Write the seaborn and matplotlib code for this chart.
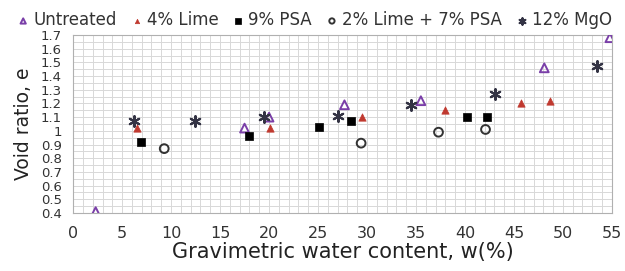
#! /usr/bin/env python3

import numpy as np
import pandas as pd
import matplotlib.pyplot as plt
from matplotlib.ticker import MultipleLocator, FormatStrFormatter
import seaborn as sns

sns.set_style('white')
plt.rcParams['font.family'] = ['DejaVu Sans']

# values
untreated_w = [2.3, 17.5, 20.0, 27.7, 35.5, 48.1, 54.8]
untreated_e = [0.41, 1.02, 1.10, 1.19, 1.22, 1.46, 1.68]

lime_w = [6.5, 20.1, 29.5, 38.0, 45.7, 48.7]
lime_e = [1.02, 1.02, 1.10, 1.15, 1.20, 1.22]

psa_w = [6.9, 18.0, 25.1, 28.4, 40.2, 42.3]
psa_e = [0.92, 0.96, 1.03, 1.07, 1.10, 1.10]

limepsa_w = [9.3, 29.4, 37.3, 42.1]
limepsa_e = [0.87, 0.91, 0.99, 1.01]

mgo_w = [6.2, 12.4, 19.5, 27.0, 34.5, 43.1, 53.5]
mgo_e = [1.07, 1.07, 1.10, 1.11, 1.19, 1.27, 1.47]

series = ['Untreated', '4% Lime', '9% PSA', '2% Lime + 7% PSA', '12% MgO']
frames = []
for name, w, e in zip(series,
                      [untreated_w, lime_w, psa_w, limepsa_w, mgo_w],
                      [untreated_e, lime_e, psa_e, limepsa_e, mgo_e]):
    frames.append(pd.DataFrame({'w': w, 'e': e, 'series': name}))
data = pd.concat(frames, ignore_index=True)

styles = {
    'Untreated': dict(marker='^', color='#7a3fa8', facecolor='none',
                      edgecolor='#7a3fa8', s=40, linewidth=1.4),
    '4% Lime': dict(marker='^', color='#c0392f', edgecolor='#c0392f',
                    s=28, linewidth=0.5),
    '9% PSA': dict(marker='s', color='black', edgecolor='black',
                   s=40, linewidth=0.5),
    '2% Lime + 7% PSA': dict(marker='o', color='#333333', facecolor='none',
                             edgecolor='#333333', s=40, linewidth=1.4),
    '12% MgO': dict(marker=(6, 2, 0), color='#333344',
                    edgecolor='#333344', s=60, linewidth=1.5),
}

fig = plt.figure(figsize=(6.25, 2.71), dpi=100)
ax = fig.add_axes([0.117, 0.214, 0.862, 0.657])

for name in series:
    sub = data[data['series'] == name]
    sns.scatterplot(x='w', y='e', data=sub, ax=ax, label=name, zorder=3,
                    **styles[name])

ax.set_xlim(0, 55)
ax.set_ylim(0.4, 1.7)
ax.xaxis.set_major_locator(MultipleLocator(5))
ax.xaxis.set_minor_locator(MultipleLocator(1))
ax.yaxis.set_major_locator(MultipleLocator(0.1))
ax.yaxis.set_minor_locator(MultipleLocator(0.05))
ax.yaxis.set_major_formatter(FormatStrFormatter('%g'))
ax.grid(True, which='both', color='#d8d8d8', linewidth=0.7, zorder=0)
ax.set_axisbelow(True)
for sp in ax.spines.values():
    sp.set_color('#b0b0b0')
    sp.set_linewidth(0.8)

ax.tick_params(axis='x', length=0, pad=9, labelsize=11.5, colors='#333333')
ax.tick_params(axis='y', length=0, pad=8, labelsize=9.5, colors='#333333')
ax.set_xlabel('Gravimetric water content, w(%)', fontsize=15,
              color='#222222', labelpad=1)
ax.set_ylabel('Void ratio, e', fontsize=13.5, color='#222222', labelpad=6)

h, l = ax.get_legend_handles_labels()
ax.get_legend().remove()
fig.legend(h, l, loc='upper center', bbox_to_anchor=(0.5, 0.995), ncol=5,
           frameon=False, fontsize=12, handletextpad=0.0, handlelength=1.2,
           columnspacing=0.6, markerscale=0.6, labelcolor='#333333',
           borderaxespad=0.2)

fig.savefig('out.png', dpi=100)
